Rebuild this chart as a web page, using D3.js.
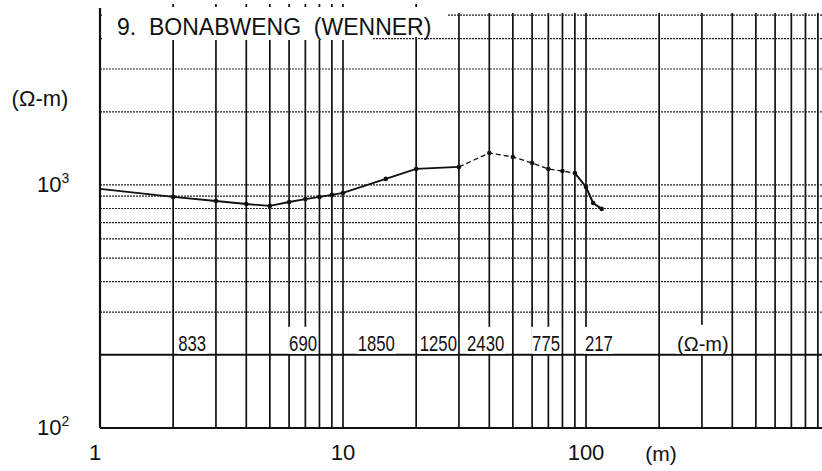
<!DOCTYPE html>
<html><head><meta charset="utf-8">
<script src="https://cdn.jsdelivr.net/npm/d3@7"></script>
<style>
html,body{margin:0;padding:0;background:#fff;}
svg{display:block;}
</style></head>
<body>
<script>
// ---- data ----
const title = "9.  BONABWENG  (WENNER)";
const spacing = [1, 2, 3, 4, 5, 6, 7, 8, 9, 10, 15, 20, 30, 40, 50, 60, 70, 80, 90, 100, 107, 116];
const resistivity = [963, 893, 859, 835, 820, 851, 875, 893, 910, 927, 1059, 1164, 1186, 1354, 1304, 1232, 1164, 1141, 1120, 981, 843, 797];
const dashedFrom = 30, dashedTo = 90;
const layerValues = ["833", "690", "1850", "1250", "2430", "775", "217"];
const layerAt = [2.1, 6.0, 11.5, 20.7, 32.4, 60, 99];
const layerUnit = "(Ω-m)";
const layerUnitAt = 237;
const layerLevel = 200;
const xTickLabels = [{v: 1, t: "1"}, {v: 10, t: "10"}, {v: 100, t: "100"}];
const xUnit = "(m)";
const yTickLabels = [{v: 1000, b: "10", e: "3"}, {v: 100, b: "10", e: "2"}];
const yUnit = "(Ω-m)";

// ---- layout ----
const W = 822, H = 471;
const svg = d3.select("body").append("svg").attr("width", W).attr("height", H);
svg.append("rect").attr("width", W).attr("height", H).attr("fill", "#fff");

const x = d3.scaleLog().domain([1, 1000]).range([100, 829]);
const y = d3.scaleLog().domain([100, 5000]).range([428, 15.1]);
const font = "'Liberation Sans', Arial, sans-serif";

// vertical grid lines (solid)
const xGrid = [];
for (let k = 0; k < 3; k++) for (let m = 1; m <= 9; m++) { const v = m * Math.pow(10, k); if (v > 1 && v < 1000) xGrid.push(v); }
svg.append("g").selectAll("line").data(xGrid).join("line")
  .attr("x1", d => x(d)).attr("x2", d => x(d))
  .attr("y1", d => x(d) < 447 ? 4 : 13).attr("y2", y(100))
  .attr("stroke", "#111").attr("stroke-width", 1.7);

// horizontal grid lines (dotted)
const yGrid = [300, 400, 500, 600, 700, 800, 900, 1000, 2000, 3000, 4000, 5000];
svg.append("g").selectAll("line").data(yGrid).join("line")
  .attr("x1", x(1)).attr("x2", W)
  .attr("y1", d => y(d)).attr("y2", d => y(d))
  .attr("stroke", "#222").attr("stroke-width", 1.2).attr("stroke-dasharray", "2,1");

// title masks
svg.append("rect").attr("x", 102).attr("y", 7).attr("width", 345).attr("height", 30).attr("fill", "#fff");
svg.append("rect").attr("x", 102).attr("y", 30).attr("width", 270).attr("height", 10).attr("fill", "#fff");

// solid 200 line
svg.append("line").attr("x1", x(1)).attr("x2", W).attr("y1", y(layerLevel)).attr("y2", y(layerLevel))
  .attr("stroke", "#111").attr("stroke-width", 2);
// bottom axis line
svg.append("line").attr("x1", x(1)).attr("x2", W).attr("y1", y(100)).attr("y2", y(100))
  .attr("stroke", "#111").attr("stroke-width", 2);
// left axis line
svg.append("line").attr("x1", x(1)).attr("x2", x(1)).attr("y1", 8).attr("y2", y(100))
  .attr("stroke", "#111").attr("stroke-width", 2.2);

// layer labels with white backgrounds (condensed digits)
const sx = 0.76;
const lg = svg.append("g");
layerValues.forEach((t, i) => {
  const gx = x(layerAt[i]);
  const g = lg.append("g").attr("transform", `translate(${gx},${y(layerLevel) - 4}) scale(${sx},1)`);
  const tx = g.append("text").attr("x", 0).attr("y", 0)
    .attr("font-family", font).attr("font-size", 22).attr("fill", "#111").text(t);
  const bb = tx.node().getBBox();
  lg.insert("rect", "g").attr("x", gx - 1).attr("y", y(layerLevel) - 28)
    .attr("width", bb.width * sx + 2).attr("height", 27).attr("fill", "#fff");
});
{
  const tx = lg.append("text").attr("x", x(layerUnitAt)).attr("y", y(layerLevel) - 4)
    .attr("font-family", font).attr("font-size", 20).attr("fill", "#111").text(layerUnit);
  const bb = tx.node().getBBox();
  lg.insert("rect", "g").attr("x", bb.x - 1).attr("y", y(layerLevel) - 30)
    .attr("width", bb.width + 2).attr("height", 29).attr("fill", "#fff");
}

// curve
const pts = spacing.map((s, i) => ({s, r: resistivity[i]}));
const line = d3.line().x(d => x(d.s)).y(d => y(d.r));
const seg1 = pts.filter(d => d.s <= dashedFrom);
const seg2 = pts.filter(d => d.s >= dashedFrom && d.s <= dashedTo);
const seg3 = pts.filter(d => d.s >= dashedTo);
svg.append("path").attr("d", line(seg1)).attr("fill", "none").attr("stroke", "#111").attr("stroke-width", 1.8);
svg.append("path").attr("d", line(seg2)).attr("fill", "none").attr("stroke", "#111").attr("stroke-width", 1.3).attr("stroke-dasharray", "5,3");
svg.append("path").attr("d", line(seg3)).attr("fill", "none").attr("stroke", "#111").attr("stroke-width", 2);
svg.append("g").selectAll("circle").data(pts.slice(1)).join("circle")
  .attr("cx", d => x(d.s)).attr("cy", d => y(d.r)).attr("r", 2.3).attr("fill", "#111");

// title
svg.append("text").attr("x", 117).attr("y", 35).attr("font-family", font).attr("font-size", 23)
  .attr("fill", "#111").attr("xml:space", "preserve").style("white-space", "pre").text(title);

// x tick labels
svg.append("g").selectAll("text").data(xTickLabels).join("text")
  .attr("x", d => d.v === 1 ? x(d.v) - 5 : x(d.v)).attr("y", 460).attr("text-anchor", "middle")
  .attr("font-family", font).attr("font-size", 22).attr("fill", "#111").text(d => d.t);
svg.append("text").attr("x", 661).attr("y", 461).attr("text-anchor", "middle")
  .attr("font-family", font).attr("font-size", 21).attr("fill", "#111").text(xUnit);

// y tick labels
yTickLabels.forEach(d => {
  const t = svg.append("text").attr("x", 37).attr("y", y(d.v) + 7)
    .attr("font-family", font).attr("font-size", 22).attr("fill", "#111");
  t.append("tspan").text(d.b);
  t.append("tspan").attr("dy", -9).attr("font-size", 14).text(d.e);
});
svg.append("text").attr("x", 40).attr("y", 106).attr("text-anchor", "middle")
  .attr("font-family", font).attr("font-size", 22).attr("fill", "#111").text(yUnit);
</script>
</body></html>
